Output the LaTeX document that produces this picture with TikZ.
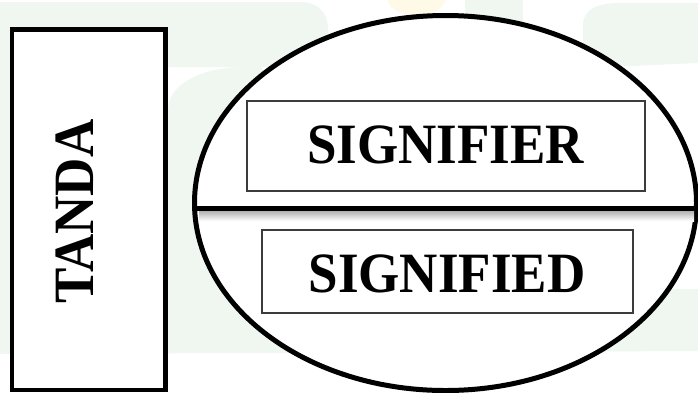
\documentclass[tikz,border=0pt]{standalone}
\usepackage{fontspec}
\setmainfont{Liberation Serif}
\usetikzlibrary{shapes.geometric}
\definecolor{wmgreen}{RGB}{240,247,241}
\definecolor{wmyellow}{RGB}{255,250,232}
\definecolor{boxgray}{RGB}{60,60,60}
\begin{document}
\begin{tikzpicture}[x=1pt,y=-1pt,
  bigtext/.style={font=\fontsize{57}{60}\selectfont\bfseries, inner sep=0pt, outer sep=0pt},
  wordbox/.style={draw=boxgray, line width=1.3pt, fill=white, inner sep=0pt, rectangle},
  sidebox/.style={draw=black, line width=4.5pt, fill=white, inner sep=0pt, rectangle},
  oval/.style={draw=black, line width=5pt, fill=white, ellipse, inner sep=0pt},
  divider/.style={draw=black, line width=5.5pt},
  wm/.style={fill=wmgreen, draw=none}
]
\useasboundingbox (0,0) rectangle (698,392);
\clip (0,0) rectangle (698,392);
\fill[white] (0,0) rectangle (698,392);
% faint watermark
\path[wm] (0,2) -- (300,2) .. controls (318,2) and (328,12) .. (328,30) -- (328,67) -- (0,67) -- cycle;
\path[wm] (168,292) -- (168,110) .. controls (168,85) and (200,67) .. (245,67) -- (262,67) -- (262,292) -- cycle;
\path[wm] (0,60) rectangle (10,352);
\path[wm] (0,293) -- (698,289) -- (698,351) -- (0,354) -- cycle;
\path[wm] (583,68) -- (583,25) .. controls (583,8) and (600,3) .. (620,3) -- (698,3) -- (698,63) -- cycle;
\path[wm] (465,0) rectangle (523,60);
\fill[wmyellow] (416.5,0) ellipse [x radius=28.5, y radius=15];
% TANDA box
\node[sidebox, minimum width=153.5pt, minimum height=360.5pt] (tandabox) at (88.75,209.75) {};
\node[bigtext, rotate=90, anchor=base] (tanda) at (93,211.7) {\scalebox{0.93}[1]{TANDA}};
% ellipse
\node[oval, minimum width=502pt, minimum height=375pt] (sign) at (445.5,203) {};
% shadow of the divider
\shade[top color=black!30, bottom color=white] (199,211) rectangle (694,221);
\coordinate (divL) at (193.5,208.5);
\coordinate (divR) at (700,208.5);
\draw[divider] (divL) -- (divR);
% word boxes
\node[wordbox, minimum width=398pt, minimum height=90pt] (sfrbox) at (446,146) {};
\node[bigtext, anchor=base] (sfr) at (445.5,163) {\scalebox{0.93}[1]{SIGNIFIER}};
\node[wordbox, minimum width=371pt, minimum height=83pt] (sfdbox) at (447.5,271.5) {};
\node[bigtext, anchor=base] (sfd) at (447,292) {\scalebox{0.93}[1]{SIGNIFIED}};
\end{tikzpicture}
\end{document}
